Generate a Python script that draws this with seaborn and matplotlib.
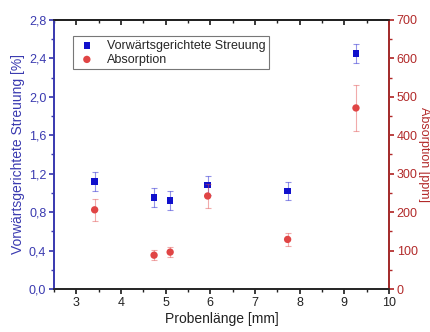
import matplotlib
matplotlib.use("Agg")
import matplotlib.pyplot as plt
from matplotlib.ticker import MultipleLocator, FuncFormatter
import seaborn as sns
import pandas as pd

# ----------------------------------------------------
# Data
# ----------------------------------------------------
LAENGE_STREU = [3.41, 4.74, 5.10, 5.94, 7.73, 9.26]
STREUUNG = [1.12, 0.95, 0.92, 1.08, 1.02, 2.45]
STREUUNG_ERR = [0.10, 0.10, 0.10, 0.10, 0.09, 0.10]

LAENGE_ABS = [3.41, 4.74, 5.10, 5.94, 7.73, 9.26]
ABSORPTION = [206, 88, 96, 242, 129, 471]
ABSORPTION_ERR = [28, 13, 13, 30, 16, 60]

BLUE = "#1010cc"
BLUE_AX = "#3a3ab0"
RED = "#e04545"
RED_AX = "#b22a2a"
DARK = "#222222"
FS = 9


def comma(x, pos):
    return f"{x:.1f}".replace(".", ",")


sns.set_theme(style="ticks")
plt.rcParams["font.family"] = ["Liberation Sans", "DejaVu Sans"]
plt.rcParams.update({"xtick.major.size": 3.5, "ytick.major.size": 3.5,
                     "xtick.minor.size": 2, "ytick.minor.size": 2})

df_s = pd.DataFrame({"x": LAENGE_STREU, "y": STREUUNG})
df_a = pd.DataFrame({"x": LAENGE_ABS, "y": ABSORPTION})

fig, ax = plt.subplots(figsize=(4.3, 3.32), dpi=100)
ax2 = ax.twinx()

ax.errorbar(LAENGE_STREU, STREUUNG, yerr=STREUUNG_ERR, fmt="none",
            ecolor=BLUE, alpha=0.45, elinewidth=0.8, capsize=2, capthick=0.8)
sns.scatterplot(data=df_s, x="x", y="y", ax=ax, marker="s", color=BLUE,
                s=22, edgecolor="none", label="Vorwärtsgerichtete Streuung", zorder=3)

ax2.errorbar(LAENGE_ABS, ABSORPTION, yerr=ABSORPTION_ERR, fmt="none",
             ecolor=RED, alpha=0.45, elinewidth=0.8, capsize=2, capthick=0.8)
sns.scatterplot(data=df_a, x="x", y="y", ax=ax2, marker="o", color=RED,
                s=28, edgecolor="none", label="Absorption", zorder=3)

ax.set_xlim(2.5, 10)
ax.set_ylim(0, 2.8)
ax2.set_ylim(0, 700)

ax.xaxis.set_major_locator(MultipleLocator(1))
ax.xaxis.set_minor_locator(MultipleLocator(0.5))
ax.yaxis.set_major_locator(MultipleLocator(0.4))
ax.yaxis.set_minor_locator(MultipleLocator(0.2))
ax.yaxis.set_major_formatter(FuncFormatter(comma))
ax2.yaxis.set_major_locator(MultipleLocator(100))
ax2.yaxis.set_minor_locator(MultipleLocator(50))

ax.tick_params(axis="x", which="both", direction="out", labelsize=FS, colors=DARK, pad=2.5)
ax.tick_params(axis="y", which="both", colors=BLUE_AX, labelsize=FS, pad=2)
ax2.tick_params(axis="y", which="both", colors=RED_AX, labelsize=FS, pad=2)

# top axis: ticks pointing inward, no labels
top = ax.secondary_xaxis("top")
top.xaxis.set_major_locator(MultipleLocator(1))
top.xaxis.set_minor_locator(MultipleLocator(0.5))
top.tick_params(axis="x", which="both", direction="in", labeltop=False, colors=DARK)
top.spines["top"].set_color(DARK)

ax.spines["left"].set_color(BLUE_AX)
ax2.spines["left"].set_color(BLUE_AX)
ax2.spines["right"].set_color(RED_AX)
for a in (ax, ax2):
    a.spines["top"].set_visible(True)
    a.spines["top"].set_color(DARK)
ax.spines["bottom"].set_color(DARK)

ax.set_xlabel("Probenlänge [mm]", fontsize=FS + 1, color=DARK, labelpad=2)
ax.set_ylabel("Vorwärtsgerichtete Streuung [%]", fontsize=FS + 1, color=BLUE_AX, labelpad=3)
ax2.set_ylabel("Absorption [ppm]", fontsize=FS, color=RED_AX, rotation=270, labelpad=9)

h1, l1 = ax.get_legend_handles_labels()
h2, l2 = ax2.get_legend_handles_labels()
ax2.get_legend().remove()
leg = ax.legend(h1 + h2, l1 + l2, loc="upper left", bbox_to_anchor=(0.057, 0.94),
                borderaxespad=0, fontsize=FS, frameon=True, fancybox=False,
                handletextpad=0.8, borderpad=0.3, labelspacing=0.15, handlelength=1.6)
leg.get_frame().set_edgecolor("#555555")
leg.get_frame().set_linewidth(0.8)

fig.subplots_adjust(left=0.1256, right=0.9047, top=0.94, bottom=0.1295)
fig.savefig("out.png", dpi=100)
